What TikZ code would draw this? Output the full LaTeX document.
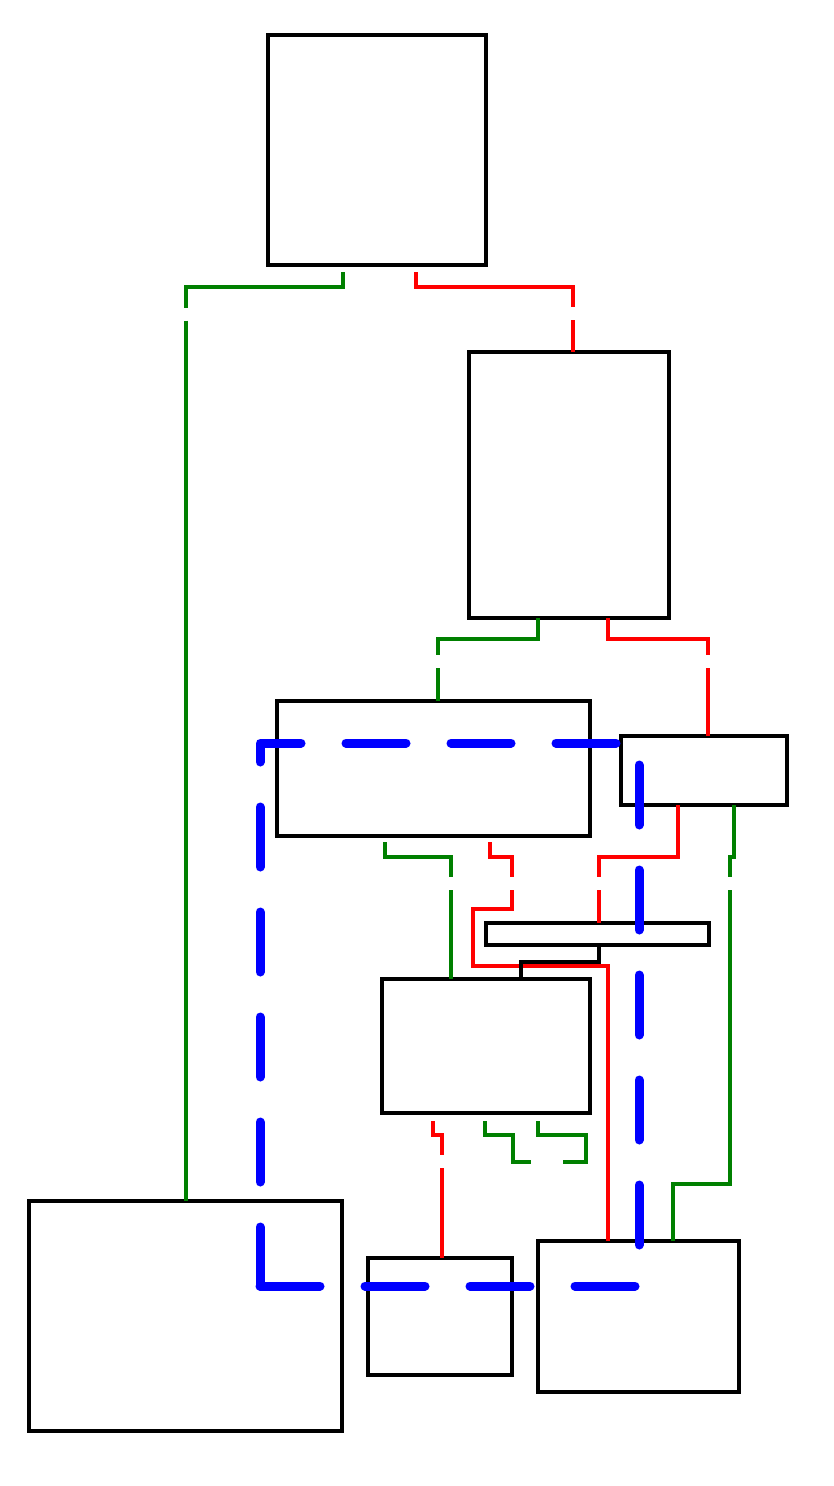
\documentclass[tikz,border=0pt]{standalone}
\usetikzlibrary{calc}
\definecolor{edgegreen}{RGB}{0,128,0}
\definecolor{edgered}{RGB}{255,0,0}
\definecolor{edgeblue}{RGB}{0,0,255}
\tikzset{
  box/.style={draw=black, line width=4pt, inner sep=0pt, outer sep=0pt, rectangle},
  gedge/.style={draw=edgegreen, line width=4pt, line cap=butt},
  redge/.style={draw=edgered, line width=4pt, line cap=butt},
  kedge/.style={draw=black, line width=4pt, line cap=butt},
  gapat/.style={dash pattern=on #1pt off 13pt on 4000pt},
  blueloop/.style={draw=edgeblue, line width=9pt, line cap=round, line join=round, dash pattern=on 60pt off 45pt}
}
\begin{document}
\begin{tikzpicture}[x=1pt, y=-1pt]
\fill[white] (0,0) rectangle (833,1486);
\useasboundingbox (0,0) rectangle (833,1486);
% boxes
\node[box, minimum width=218pt, minimum height=230pt] (A) at (377,150) {};
\node[box, minimum width=200pt, minimum height=266pt] (B) at (569,485) {};
\node[box, minimum width=313pt, minimum height=135pt] (C) at (433.5,768.5) {};
\node[box, minimum width=166pt, minimum height=69pt] (D) at (704,770.5) {};
\node[box, minimum width=223pt, minimum height=22pt] (E) at (597.5,934) {};
\node[box, minimum width=208pt, minimum height=134pt] (F) at (486,1046) {};
\node[box, minimum width=313pt, minimum height=230pt] (G) at (185.5,1316) {};
\node[box, minimum width=144pt, minimum height=117pt] (H) at (440,1316.5) {};
\node[box, minimum width=201pt, minimum height=151pt] (I) at (638.5,1316.5) {};
% edges
\draw[gedge, gapat=193] ($(A.south)+(-34,7)$) -- ++(0,15) -| (G.north);
\draw[redge, gapat=192] ($(A.south)+(39,7)$) -- ++(0,15) -| ($(B.north)+(4,0)$);
\draw[gedge, gapat=137] ($(B.south)+(-31,0)$) -- ++(0,21) -| ($(C.north)+(4.5,0)$);
\draw[redge, gapat=137] ($(B.south)+(39,0)$) -- ++(0,21) -| ($(D.north)+(4,0)$);
\draw[gedge, gapat=101] ($(C.south)+(-48.5,6)$) -- ++(0,15) -| ($(F.north)+(-35,0)$);
\draw[redge, gapat=57] ($(C.south)+(56.5,6)$) -- ++(0,15) -- ++(22,0) -- ++(0,52) -- ++(-39,0) -- ++(0,57) -| ($(I.north)+(-30.5,0)$);
\draw[redge, gapat=151] ($(D.south)+(-26,0)$) -- ++(0,52) -| ($(E.north)+(1.5,0)$);
\draw[gedge, gapat=76] ($(D.south)+(30,0)$) -- ++(0,52) -- ++(-4,0) -- ++(0,327) -| ($(I.north)+(34.5,0)$);
\draw[kedge] ($(E.south)+(1.5,0)$) -- ++(0,17) -| ($(F.north)+(35,0)$);
\draw[redge, gapat=43] ($(F.south)+(-53,8)$) -- ++(0,14) -| ($(H.north)+(2,0)$);
\coordinate (s1) at (531,1162);
\coordinate (s2) at (563,1162);
\draw[gedge] ($(F.south)+(-1,8)$) -- ++(0,14) -- ++(28,0) |- (s1);
\draw[gedge] ($(F.south)+(52,8)$) -- ++(0,14) -- ++(48,0) |- (s2);
% blue loop
\coordinate (b1) at (260,1286);
\coordinate (b2) at (639,743);
\draw[blueloop] (b1) -- (b1 -| b2) -- (b2) -- (b2 -| b1) -- (b1);
\end{tikzpicture}
\end{document}
